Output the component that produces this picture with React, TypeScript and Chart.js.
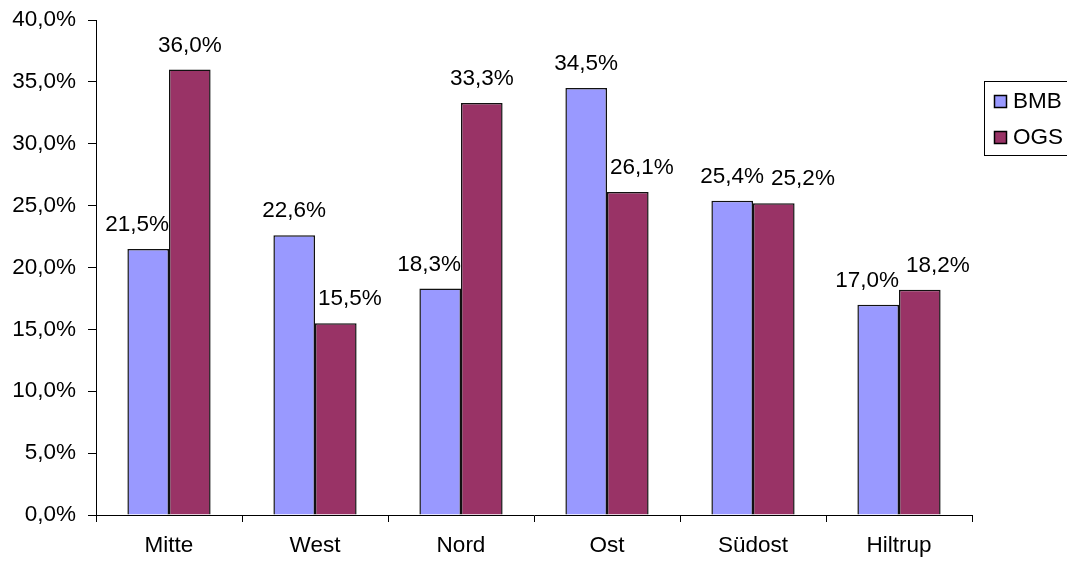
import React, { useEffect, useRef } from "react";
import { Chart, registerables } from "chart.js";

Chart.register(...registerables);

const categories = ["Mitte", "West", "Nord", "Ost", "Südost", "Hiltrup"];
const bmbValues = [21.5, 22.6, 18.3, 34.5, 25.4, 17.0];
const ogsValues = [36.0, 15.5, 33.3, 26.1, 25.2, 18.2];
const seriesNames = ["BMB", "OGS"];
const seriesColors = ["#9999FF", "#993366"];
const yMin = 0;
const yMax = 40;
const yStep = 5;

const FONT = '"Liberation Sans", Arial, sans-serif';
const FS = 22.5;
const fmt = (v: number) => v.toFixed(1).replace(".", ",") + "%";

const labelPlugin = {
  id: "barLabels",
  afterDatasetsDraw(chart: any) {
    const ctx = chart.ctx;
    const m0 = chart.getDatasetMeta(0);
    const m1 = chart.getDatasetMeta(1);
    ctx.save();
    ctx.font = `${FS}px ${FONT}`;
    ctx.fillStyle = "#000";
    ctx.textBaseline = "alphabetic";
    ctx.textAlign = "left";
    const gap = 18;
    const capH = FS * 0.72;
    const sep = 7;
    categories.forEach((_, i) => {
      const a = m0.data[i];
      const b = m1.data[i];
      const ta = fmt(chart.data.datasets[0].data[i]);
      const tb = fmt(chart.data.datasets[1].data[i]);
      const wa = ctx.measureText(ta).width;
      const wb = ctx.measureText(tb).width;
      let ca = a.x;
      let cb = b.x;
      const aR = a.x + a.width / 2;
      const bL = b.x - b.width / 2;
      if (b.y < a.y) ca = aR - wa / 2;
      if (a.y < b.y) cb = bL + 3 + wb / 2;
      const ya = a.y - gap;
      const yb = b.y - gap;
      const vOverlap = Math.abs(ya - yb) < capH + 2;
      if (vOverlap && cb - wb / 2 < ca + wa / 2 + sep) cb = ca + wa / 2 + sep + wb / 2;
      ctx.fillText(ta, ca - wa / 2, ya);
      ctx.fillText(tb, cb - wb / 2, yb);
    });
    ctx.restore();
  },
};

const legendPlugin = {
  id: "boxLegend",
  afterDraw(chart: any) {
    const ctx = chart.ctx;
    const left = chart.chartArea.right + 12;
    const top = 81;
    ctx.save();
    ctx.strokeStyle = "#000";
    ctx.lineWidth = 1;
    ctx.strokeRect(left + 0.5, top + 0.5, 120, 74);
    ctx.font = `${FS}px ${FONT}`;
    ctx.textBaseline = "middle";
    ctx.textAlign = "left";
    chart.data.datasets.forEach((ds: any, i: number) => {
      const cy = top + 20 + i * 36;
      ctx.fillStyle = ds.backgroundColor;
      ctx.fillRect(left + 10, cy - 6, 12, 12);
      ctx.strokeStyle = "#000";
      ctx.lineWidth = 1.5;
      ctx.strokeRect(left + 10.5, cy - 5.5, 12, 12);
      ctx.fillStyle = "#000";
      ctx.fillText(ds.label, left + 29, cy + 1);
    });
    ctx.restore();
  },
};

export default function App() {
  const ref = useRef<HTMLCanvasElement>(null);
  useEffect(() => {
    if (!ref.current) return;
    const chart = new Chart(ref.current, {
      type: "bar",
      data: {
        labels: categories,
        datasets: [
          {
            label: seriesNames[0],
            data: bmbValues,
            backgroundColor: seriesColors[0],
            borderColor: "#111",
            borderWidth: 1.5,
            categoryPercentage: 0.57,
            barPercentage: 1,
          },
          {
            label: seriesNames[1],
            data: ogsValues,
            backgroundColor: seriesColors[1],
            borderColor: "#111",
            borderWidth: 1.5,
            categoryPercentage: 0.57,
            barPercentage: 1,
          },
        ],
      },
      options: {
        responsive: false,
        animation: false,
        devicePixelRatio: 1,
        layout: { padding: { top: 20, right: 95, left: 0, bottom: 0 } },
        plugins: { legend: { display: false }, tooltip: { enabled: false } },
        scales: {
          x: {
            grid: {
              display: true,
              drawOnChartArea: false,
              drawTicks: true,
              tickLength: 7,
              color: "#000",
              offset: true,
            },
            border: { display: true, color: "#000", width: 1 },
            ticks: { font: { family: FONT, size: FS }, color: "#000", padding: 10 },
            afterFit: (s: any) => {
              s.height = 46;
              s.paddingLeft = 0;
              s.paddingRight = 0;
            },
          },
          y: {
            min: yMin,
            max: yMax,
            ticks: {
              stepSize: yStep,
              callback: (v: any) => fmt(Number(v)),
              font: { family: FONT, size: FS },
              color: "#000",
              padding: 12,
            },
            grid: { drawOnChartArea: false, tickLength: 8, color: "#000" },
            border: { display: true, color: "#000", width: 1 },
            afterFit: (s: any) => {
              s.width = 96;
              s.paddingTop = 0;
              s.paddingBottom = 0;
            },
          },
        },
      },
      plugins: [labelPlugin, legendPlugin],
    });
    return () => chart.destroy();
  }, []);
  return (
    <div style={{ position: "absolute", left: 0, top: 0, width: 1067, height: 561, background: "#fff" }}>
      <canvas ref={ref} width={1067} height={561} />
    </div>
  );
}
